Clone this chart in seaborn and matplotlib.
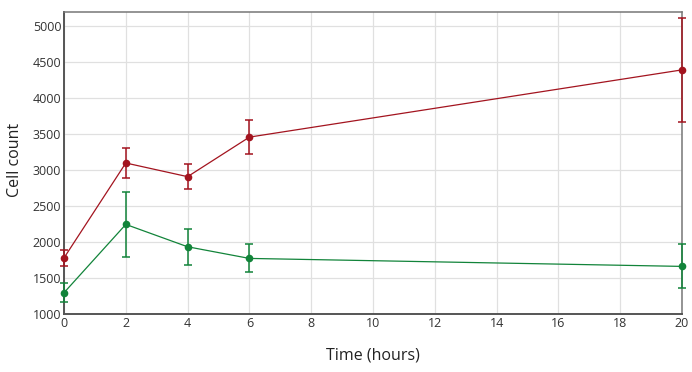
import matplotlib
matplotlib.use("Agg")
import matplotlib.pyplot as plt
import seaborn as sns
import pandas as pd

time_hours = [0, 2, 4, 6, 20]
series_a_mean = [1780, 3100, 2910, 3460, 4395]
series_a_err = [110, 210, 170, 235, 720]
series_b_mean = [1296, 2246, 1935, 1773, 1662]
series_b_err = [130, 450, 250, 195, 305]
series_names = ["A", "B"]
colors = {"A": "#a3141f", "B": "#12843a"}

df = pd.DataFrame({
    "Time": time_hours * 2,
    "Count": series_a_mean + series_b_mean,
    "Err": series_a_err + series_b_err,
    "Series": [series_names[0]] * len(time_hours) + [series_names[1]] * len(time_hours),
})

sns.set_style("white")
plt.rcParams["font.family"] = ["Open Sans", "DejaVu Sans"]

fig = plt.figure(figsize=(6.92, 3.72), dpi=100)
ax = fig.add_axes([64 / 692, 58 / 372, 618 / 692, 302 / 372])

for name in series_names:
    sub = df[df["Series"] == name]
    ax.errorbar(sub["Time"], sub["Count"], yerr=sub["Err"], fmt="none",
                ecolor=colors[name], elinewidth=1.1, capsize=3, capthick=1.1,
                zorder=3, clip_on=False)

sns.lineplot(data=df, x="Time", y="Count", hue="Series", palette=colors,
             marker="o", markersize=5.5, markeredgewidth=0, linewidth=0.9,
             legend=False, ax=ax, zorder=4, clip_on=False)

ax.set_xlim(0, 20)
ax.set_ylim(1000, 5200)
ax.set_xticks(range(0, 21, 2))
ax.set_yticks(range(1000, 5001, 500))
ax.grid(True, color="#e0e0e0", linewidth=0.9)
ax.set_axisbelow(True)
for s in ax.spines.values():
    s.set_color("#777777")
    s.set_linewidth(1.1)
ax.spines["left"].set_color("#555555")
ax.spines["bottom"].set_color("#555555")
ax.spines["left"].set_linewidth(1.4)
ax.spines["bottom"].set_linewidth(1.4)
ax.tick_params(axis="both", labelsize=9, colors="#333333", length=0, pad=2)
ax.set_xlabel("Time (hours)", fontsize=11.5, color="#222222")
ax.set_ylabel("Cell count", fontsize=11.5, color="#222222")
ax.xaxis.set_label_coords((373 - 64) / 618, -(355 - 314) / 302)
ax.yaxis.set_label_coords((15 - 64) / 618, (314 - 160) / 302)
ax.xaxis.label.set_va("center")
ax.yaxis.label.set_va("center")

fig.savefig("out.png", dpi=100)
